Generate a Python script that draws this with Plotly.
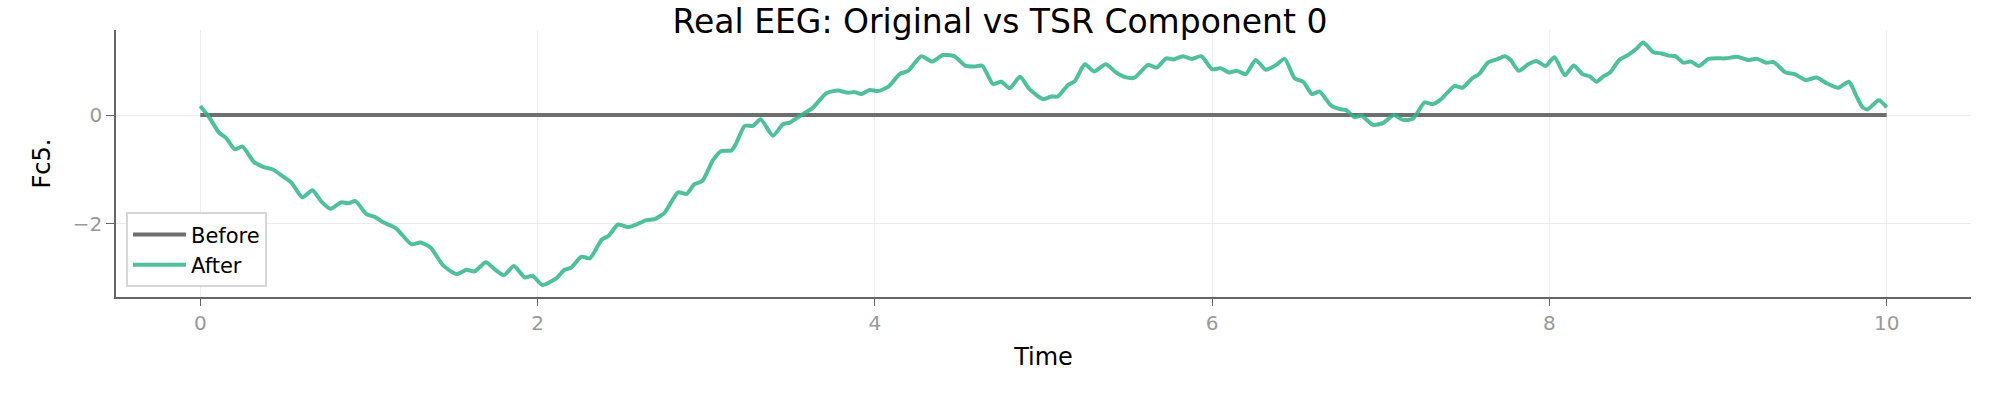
import plotly.graph_objects as go

# ---- data ----
before_time = [0.0, 10.0]
before_vals = [0.0, 0.0]

after_time = [
    0.0, 0.056, 0.11, 0.155, 0.205, 0.25, 0.317, 0.372, 0.43, 0.487, 0.54, 0.606,
    0.665, 0.718, 0.772, 0.837, 0.877, 0.92, 0.985, 1.035, 1.085, 1.16, 1.252,
    1.305, 1.365, 1.44, 1.52, 1.578, 1.627, 1.693, 1.745, 1.8, 1.86, 1.924, 1.97,
    2.028, 2.11, 2.16, 2.2, 2.26, 2.31, 2.38, 2.42, 2.477, 2.536, 2.586, 2.645,
    2.695, 2.754, 2.833, 2.883, 2.93, 2.977, 3.04, 3.09, 3.15, 3.178, 3.228,
    3.277, 3.323, 3.396, 3.455, 3.495, 3.554, 3.633, 3.712, 3.78, 3.84, 3.88,
    3.92, 3.969, 4.02, 4.08, 4.147, 4.197, 4.276, 4.34, 4.404, 4.47, 4.54, 4.59,
    4.637, 4.7, 4.75, 4.8, 4.86, 4.918, 5.0, 5.045, 5.085, 5.145, 5.185, 5.245,
    5.30, 5.37, 5.43, 5.49, 5.54, 5.62, 5.67, 5.728, 5.77, 5.827, 5.88, 5.936,
    6.0, 6.05, 6.1, 6.147, 6.2, 6.258, 6.318, 6.38, 6.43, 6.49, 6.54, 6.592,
    6.637, 6.706, 6.756, 6.795, 6.845, 6.884, 6.953, 7.013, 7.078, 7.13, 7.19,
    7.26, 7.31, 7.358, 7.437, 7.485, 7.541, 7.583, 7.635, 7.687, 7.735, 7.77,
    7.818, 7.874, 7.922, 7.978, 8.03, 8.092, 8.144, 8.196, 8.238, 8.28, 8.32,
    8.36, 8.414, 8.466, 8.518, 8.556, 8.618, 8.664, 8.705, 8.747, 8.795, 8.84,
    8.886, 8.944, 9.048, 9.115, 9.177, 9.231, 9.287, 9.33, 9.4, 9.454, 9.52,
    9.585, 9.64, 9.713, 9.776, 9.817, 9.855, 9.886, 9.953, 10.0,
]
after_vals = [
    0.165, -0.06, -0.32, -0.43, -0.63, -0.58, -0.86, -0.95, -1.0, -1.12, -1.24, -1.51,
    -1.38, -1.59, -1.72, -1.60, -1.62, -1.58, -1.82, -1.87, -1.97, -2.08, -2.37,
    -2.34, -2.43, -2.76, -2.92, -2.84, -2.87, -2.70, -2.83, -2.94, -2.77, -2.98, -2.95,
    -3.12, -3.0, -2.84, -2.80, -2.60, -2.63, -2.29, -2.22, -2.01, -2.06, -2.01, -1.93,
    -1.91, -1.79, -1.42, -1.45, -1.27, -1.21, -0.83, -0.66, -0.65, -0.52, -0.20,
    -0.20, -0.08, -0.38, -0.17, -0.14, -0.02, 0.135, 0.40, 0.45, 0.41, 0.42,
    0.385, 0.46, 0.44, 0.52, 0.75, 0.81, 1.08, 0.98, 1.10, 1.08, 0.90, 0.89,
    0.905, 0.57, 0.61, 0.49, 0.70, 0.47, 0.29, 0.34, 0.34, 0.55, 0.62, 0.93,
    0.80, 0.93, 0.78, 0.69, 0.685, 0.92, 0.87, 1.04, 1.02, 1.08, 1.03, 1.08,
    0.84, 0.86, 0.78, 0.81, 0.75, 1.01, 0.83, 0.92, 1.03, 0.67, 0.61, 0.385,
    0.43, 0.17, 0.11, 0.09, -0.04, -0.01, -0.18, -0.15, 0.0, -0.09, -0.07,
    0.23, 0.20, 0.29, 0.53, 0.50, 0.67, 0.75, 0.96, 1.02, 1.08, 1.01,
    0.81, 0.93, 0.99, 0.90, 1.06, 0.73, 0.91, 0.75, 0.71, 0.61, 0.71,
    0.78, 1.01, 1.10, 1.22, 1.33, 1.15, 1.13, 1.09, 1.08, 0.96, 0.98,
    0.90, 1.03, 1.04, 1.07, 1.01, 1.03, 0.96, 0.97, 0.78, 0.75, 0.64,
    0.69, 0.59, 0.50, 0.61, 0.37, 0.15, 0.10, 0.27, 0.14,
]

x_ticks = [0, 2, 4, 6, 8, 10]
y_ticks = [-2, 0]

FONT = "DejaVu Sans"
TICK_COLOR = "#999999"
SPINE_COLOR = "#666666"
GRID_COLOR = "#ececec"

fig = go.Figure()
fig.add_trace(go.Scatter(
    x=before_time, y=before_vals, mode="lines", name="Before",
    line=dict(color="#6e6e6e", width=4),
))
fig.add_trace(go.Scatter(
    x=after_time, y=after_vals, mode="lines", name="After",
    line=dict(color="rgba(50,180,140,0.86)", width=4, shape="spline", smoothing=0.6),
))

fig.update_layout(
    width=2000, height=400,
    margin=dict(l=116, r=29, t=30, b=103, autoexpand=False),
    paper_bgcolor="white", plot_bgcolor="white",
    font=dict(family=FONT, color="black"),
    title=dict(text="Real EEG: Original vs TSR Component 0", x=0.5, xref="container",
               xanchor="center", y=0.975, yref="container", yanchor="top",
               automargin=False,
               font=dict(family=FONT, size=33, color="black")),
    showlegend=True,
    legend=dict(x=0.0054, y=0.036, xanchor="left", yanchor="bottom",
                bgcolor="white", bordercolor="#d6d6d6", borderwidth=2,
                font=dict(family=FONT, size=21, color="black"),
                itemwidth=53, tracegroupgap=0),
)
fig.update_xaxes(
    range=[-0.5, 10.5], tickvals=x_ticks, ticktext=[str(v) for v in x_ticks],
    automargin=False,
    showgrid=True, gridcolor=GRID_COLOR, gridwidth=1, zeroline=False,
    showline=True, linecolor=SPINE_COLOR, linewidth=1.5, mirror=False,
    ticks="outside", ticklen=7, tickwidth=1.2, tickcolor=SPINE_COLOR,
    tickfont=dict(family=FONT, size=20, color=TICK_COLOR),
    title=dict(text="Time", font=dict(family=FONT, size=24, color="black"), standoff=14),
)
fig.update_yaxes(
    range=[-3.34, 1.56], tickvals=y_ticks, ticktext=["\u22122", "0"],
    automargin=False,
    showgrid=True, gridcolor=GRID_COLOR, gridwidth=1, zeroline=False,
    showline=True, linecolor=SPINE_COLOR, linewidth=1.5, mirror=False,
    ticks="outside", ticklen=8, tickwidth=1.2, tickcolor=SPINE_COLOR,
    tickfont=dict(family=FONT, size=20, color=TICK_COLOR),
    title=dict(text="Fc5.", font=dict(family=FONT, size=24, color="black"), standoff=15),
)

fig.write_html("out.html", config={"displayModeBar": False},
               post_script="document.body.style.margin='0';")
